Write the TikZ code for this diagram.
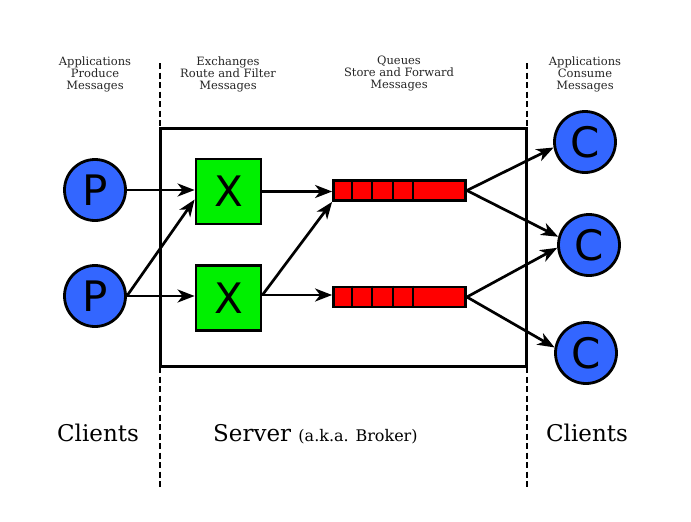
\documentclass[tikz,border=0pt]{standalone}
\usepackage{fontspec}
\setmainfont{DejaVu Serif}
\newfontfamily\lettfont{DejaVu Sans}
\usetikzlibrary{arrows.meta}
\definecolor{cblue}{RGB}{51,102,255}
\definecolor{xgreen}{RGB}{0,240,0}
\definecolor{qred}{RGB}{255,0,0}
\begin{document}
\begin{tikzpicture}[x=1pt,y=-1pt,
  client/.style={circle, draw, line width=2.8pt, fill=cblue, minimum size=61pt, inner sep=0pt, font=\lettfont\fontsize{42}{42}\selectfont},
  xbox/.style={rectangle, draw, line width=2.8pt, fill=xgreen, minimum width=65pt, minimum height=65pt, inner sep=0pt, font=\lettfont\fontsize{42}{42}\selectfont},
  queue/.style={rectangle, draw, line width=2.8pt, fill=qred, minimum width=132pt, minimum height=20pt, inner sep=0pt},
  server/.style={rectangle, draw, line width=2.8pt, minimum width=366pt, minimum height=238pt, inner sep=0pt},
  conn/.style={-{Stealth[length=17pt,width=13pt,inset=5pt]}, line width=2.7pt},
  divider/.style={line width=1.4pt, dash pattern=on 6pt off 3.5pt},
  lbl/.style={font=\fontsize{11.5}{12}\selectfont, align=center, text=black!85},
  big/.style={font=\fontsize{23}{25}\selectfont}
]
\useasboundingbox (0,0) rectangle (691,522);
\fill[white] (0,0) rectangle (691,522);

% dividers
\draw[divider] (160,63) -- (160,488);
\draw[divider] (527,63) -- (527,488);

% server box
\node[server] (srv) at (343.5,247.5) {};

% top labels
\node[lbl] (t1) at (95,74) {Applications\\Produce\\Messages};
\node[lbl] (t2) at (228,74) {Exchanges\\Route and Filter\\Messages};
\node[lbl] (t3) at (399,74) {Queues\\Store and Forward\\Messages};
\node[lbl] (t4) at (585,74) {Applications\\Consume\\Messages};

% bottom labels
\node[big] (b1) at (98,433) {Clients};
\node[big, anchor=base west, inner sep=0pt] (b2) at (213,441) {Server {\fontsize{16}{18}\selectfont(a.k.a. Broker)}};
\node[big] (b3) at (587,433) {Clients};

% producers
\node[client] (P1) at (95,190) {P};
\node[client] (P2) at (95,296) {P};

% exchanges
\node[xbox] (X1) at (228.5,191.5) {X};
\node[xbox] (X2) at (228.5,298) {X};

% queues
\node[queue] (Q1) at (399.5,190.5) {};
\node[queue] (Q2) at (399.5,297) {};
\foreach \q in {Q1,Q2}{
  \foreach \d in {20,40,61,81}{
    \draw[line width=2pt] ([xshift=\d pt]\q.north west) -- ([xshift=\d pt]\q.south west);
  }
}

% consumers
\node[client] (C1) at (585,142) {C};
\node[client] (C2) at (589,245) {C};
\node[client] (C3) at (586,353) {C};

% connectors
\draw[conn] (P1.east) -- (P1.east -| X1.west);
\draw[conn] (P2.east) -- ([yshift=-8pt]X1.west);
\draw[conn] (P2.east) -- (P2.east -| X2.west);
\draw[conn] (X1.east) -- (X1.east -| Q1.west);
\draw[conn] ([yshift=3pt]X2.east) -- (Q1.south west);
\draw[conn] ([yshift=3pt]X2.east) -- ([yshift=3pt]X2.east -| Q2.west);
\draw[conn] (Q1.east) -- (C1.190);
\draw[conn] (Q1.east) -- (C2.165);
\draw[conn] (Q2.east) -- (C2.185);
\draw[conn] (Q2.east) -- (C3.170);
\end{tikzpicture}
\end{document}
